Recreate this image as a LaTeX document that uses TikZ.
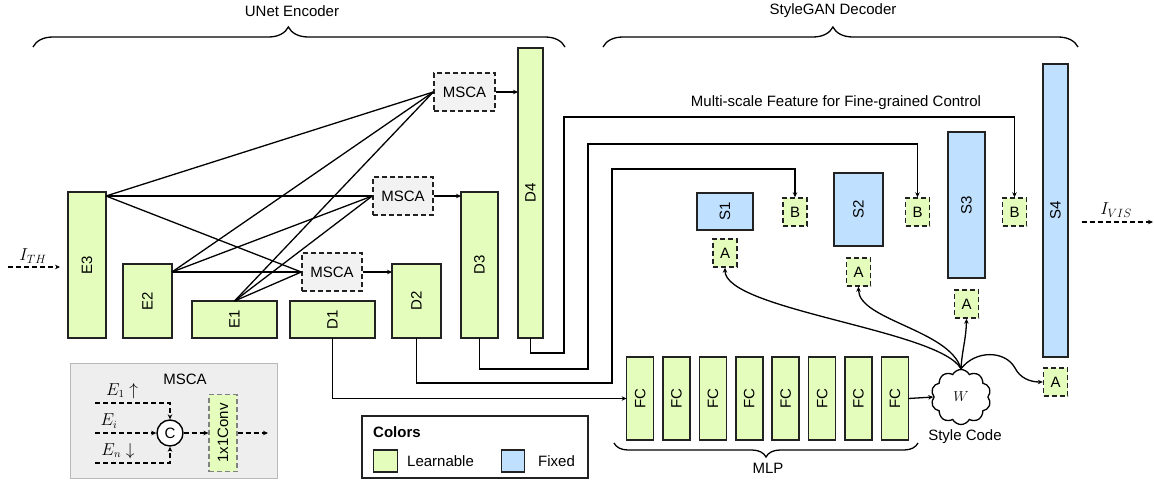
\documentclass[tikz,border=0pt]{standalone}
\usepackage{fontspec}
\usepackage{graphicx}
\setmainfont{Liberation Sans}
\usetikzlibrary{arrows.meta,shapes.symbols,decorations.pathreplacing,calc}
\definecolor{lgreen}{RGB}{228,253,188}
\definecolor{lblue}{RGB}{191,225,255}
\definecolor{lgray}{RGB}{242,242,242}
\definecolor{edge}{RGB}{34,34,34}
\definecolor{insetfill}{RGB}{238,238,238}
\definecolor{insetdraw}{RGB}{185,185,185}
\begin{document}
\begin{tikzpicture}[x=1pt,y=-1pt, font=\fontsize{15}{18}\selectfont,
 blk/.style={draw=edge, line width=1.5pt, inner sep=0pt, outer sep=0pt},
 gblk/.style={blk, fill=lgreen},
 bblk/.style={blk, fill=lblue},
 mbox/.style={draw=edge, line width=1.4pt, dash pattern=on 5pt off 3pt, fill=lgray, minimum width=60pt, minimum height=38pt, inner sep=0pt},
 sbox/.style={draw=edge, line width=1.4pt, dash pattern=on 5pt off 3pt, fill=lgreen, minimum width=24pt, minimum height=28pt, inner sep=0pt},
 tipst/.style={-{Stealth[length=5pt,width=4.5pt]}},
 ln/.style={line width=1.3pt, draw=black},
 arr/.style={ln, tipst},
 darr/.style={ln, tipst, dash pattern=on 5pt off 3pt},
 lbl/.style={inner sep=0pt},
 brc/.style={ln, decorate},
]
\useasboundingbox (0,0) rectangle (1154,480);

% braces and titles
\draw[brc, decoration={brace, amplitude=20pt, aspect=0.48}] (33,47) -- (565,47);
\node[lbl] (tenc) at (292,11) {UNet Encoder};
\draw[brc, decoration={brace, amplitude=20pt, aspect=0.484}] (603,47) -- (1078,47);
\node[lbl] (tdec) at (833,11) {StyleGAN Decoder};

% encoder blocks
\node[gblk, minimum width=38pt, minimum height=146pt] (E3) at (87,265) {\rotatebox{90}{E3}};
\node[gblk, minimum width=49pt, minimum height=74pt] (E2) at (147.5,301) {\rotatebox{90}{E2}};
\node[gblk, minimum width=85pt, minimum height=37pt] (E1) at (234.5,319.5) {\rotatebox{90}{E1}};
\node[gblk, minimum width=85pt, minimum height=37pt] (D1) at (332.5,319.5) {\rotatebox{90}{D1}};
\node[gblk, minimum width=49pt, minimum height=74pt] (D2) at (416.5,301) {\rotatebox{90}{D2}};
\node[gblk, minimum width=37pt, minimum height=146pt] (D3) at (479.5,265) {\rotatebox{90}{D3}};
\node[gblk, minimum width=25pt, minimum height=290pt] (D4) at (530.5,193) {\rotatebox{90}{D4}};

% MSCA modules
\node[mbox] (Ml) at (332,272) {MSCA};
\node[mbox] (Mm) at (403,196) {MSCA};
\node[mbox, minimum width=61pt] (Mt) at (464.5,92) {MSCA};

% input
\coordinate (ith0) at (8,267);
\coordinate (ith1) at (60,267);
\draw[darr] (ith0) -- (ith1);
\node[lbl, font=\fontsize{17}{20}\selectfont] (ithl) at (33,256) {$I_{TH}$};

% encoder -> MSCA
\coordinate (o3) at ([yshift=-4pt]E3.north east);
\coordinate (o2) at ([yshift=-8pt]E2.north east);
\coordinate (o1) at (E1.north);
\foreach \m in {Ml,Mm,Mt}{
  \draw[ln] (o3) -- (\m.west);
  \draw[ln] (o2) -- (\m.west);
  \draw[ln] (o1) -- (\m.west);
}
\draw[arr] (Ml.east) -- (D2.west |- Ml.east);
\draw[arr] (Mm.east) -- (D3.west |- Mm.east);
\draw[arr] (Mt.east) -- (D4.west |- Mt.east);

% decoder blocks
\node[bblk, minimum width=56pt, minimum height=37pt] (S1) at (725,211.5) {\rotatebox{90}{S1}};
\node[bblk, minimum width=49pt, minimum height=73pt] (S2) at (858.5,209.5) {\rotatebox{90}{S2}};
\node[bblk, minimum width=37pt, minimum height=146pt] (S3) at (966.5,205) {\rotatebox{90}{S3}};
\node[bblk, minimum width=25pt, minimum height=293pt] (S4) at (1055.5,210.5) {\rotatebox{90}{S4}};

\node[sbox] (B1) at (795,212) {B};
\node[sbox] (B2) at (917.5,212) {B};
\node[sbox] (B3) at (1014.5,212) {B};

\node[sbox] (A1) at (725,253) {A};
\node[sbox] (A2) at (858.5,272) {A};
\node[sbox] (A3) at (966.5,304) {A};
\node[sbox] (A4) at (1055.5,382) {A};

% output
\coordinate (vis0) at (1082,222);
\coordinate (vis1) at (1153,222);
\draw[darr] (vis0) -- (vis1);
\node[lbl, font=\fontsize{17}{20}\selectfont] (visl) at (1116,210) {$I_{VIS}$};

% multi-scale routes
\node[lbl] (msl) at (836,103) {Multi-scale Feature for Fine-grained Control};
\draw[arr] (D4.south) -- ++(0,15) -| (564,117) -| (B3.north);
\draw[arr] (D3.south) -- ++(0,31) -| (588,144) -| (B2.north);
\draw[arr] (D2.south) -- ++(0,45) -| (612,169) -| (B1.north);

% MLP
\foreach \i in {1,...,8}{
  \node[gblk, minimum width=27pt, minimum height=83pt] (FC\i) at ({640.1+36.4*(\i-1)},398.5) {\rotatebox{90}{FC}};
}
\draw[arr] (D1.south) |- (FC1.west);
\draw[brc, decoration={brace, amplitude=14pt, mirror}] (614,443) -- (918,443);
\node[lbl] (mlp) at (768,468) {MLP};

% style code
\node[cloud, draw=black, line width=1.3pt, cloud puffs=10, cloud puff arc=125, aspect=1.1, minimum width=60pt, minimum height=55pt, inner sep=0pt] (W) at (961,397) {$W$};
\node[lbl] (sc) at (965,437) {Style Code};
\draw[arr] (FC8.east) -- (W.west);
\draw[arr] (W.north) .. controls (940,330) and (725,310) .. (A1.south);
\draw[arr] (W.north) .. controls (950,330) and (858.5,320) .. (A2.south);
\draw[arr] (W.north) .. controls (962,350) and (966,340) .. (A3.south);
\draw[arr] (W.north) .. controls (975,350) and (1005,350) .. (1015,368) .. controls (1020,378) and (1030,382) .. (A4.west);

% MSCA inset
\node[draw=insetdraw, fill=insetfill, line width=1pt, minimum width=207pt, minimum height=115pt, inner sep=0pt] (inset) at (173.5,420.5) {};
\node[lbl] (insett) at (185,379) {MSCA};
\node[circle, draw=black, fill=white, line width=1.4pt, minimum size=26pt, inner sep=0pt] (cc) at (170,433) {C};
\node[draw=gray, line width=1.1pt, dash pattern=on 5pt off 3pt, fill=lgreen, minimum width=28pt, minimum height=77pt, inner sep=0pt] (conv) at (223,433) {\rotatebox{90}{1x1Conv}};
\coordinate (e1s) at (95,403);
\coordinate (eis) at (95,433);
\coordinate (ens) at (95,463);
\coordinate (cout) at (268,433);
\draw[darr] (e1s) -| (cc.north);
\draw[darr] (eis) -- (cc.west);
\draw[darr] (ens) -| (cc.south);
\draw[darr] (cc.east) -- (conv.west);
\draw[darr] (conv.east) -- (cout);
\node[lbl, font=\fontsize{16}{19}\selectfont] (le1) at (122,391) {$E_1\uparrow$};
\node[lbl, font=\fontsize{16}{19}\selectfont] (lei) at (109,421) {$E_i$};
\node[lbl, font=\fontsize{16}{19}\selectfont] (len) at (118,451) {$E_n\downarrow$};

% legend
\node[draw=edge, line width=1.4pt, minimum width=226pt, minimum height=62pt, inner sep=0pt] (leg) at (475,447) {};
\node[lbl, anchor=west, font=\fontsize{15}{18}\selectfont\bfseries] (legt) at (373,432) {Colors};
\node[gblk, minimum width=24pt, minimum height=22pt] (lg) at (385.5,461) {};
\node[lbl, anchor=west] (lgt) at (407,461) {Learnable};
\node[bblk, minimum width=23pt, minimum height=22pt] (lb) at (513,461) {};
\node[lbl, anchor=west] (lbt) at (538,461) {Fixed};
\end{tikzpicture}
\end{document}
